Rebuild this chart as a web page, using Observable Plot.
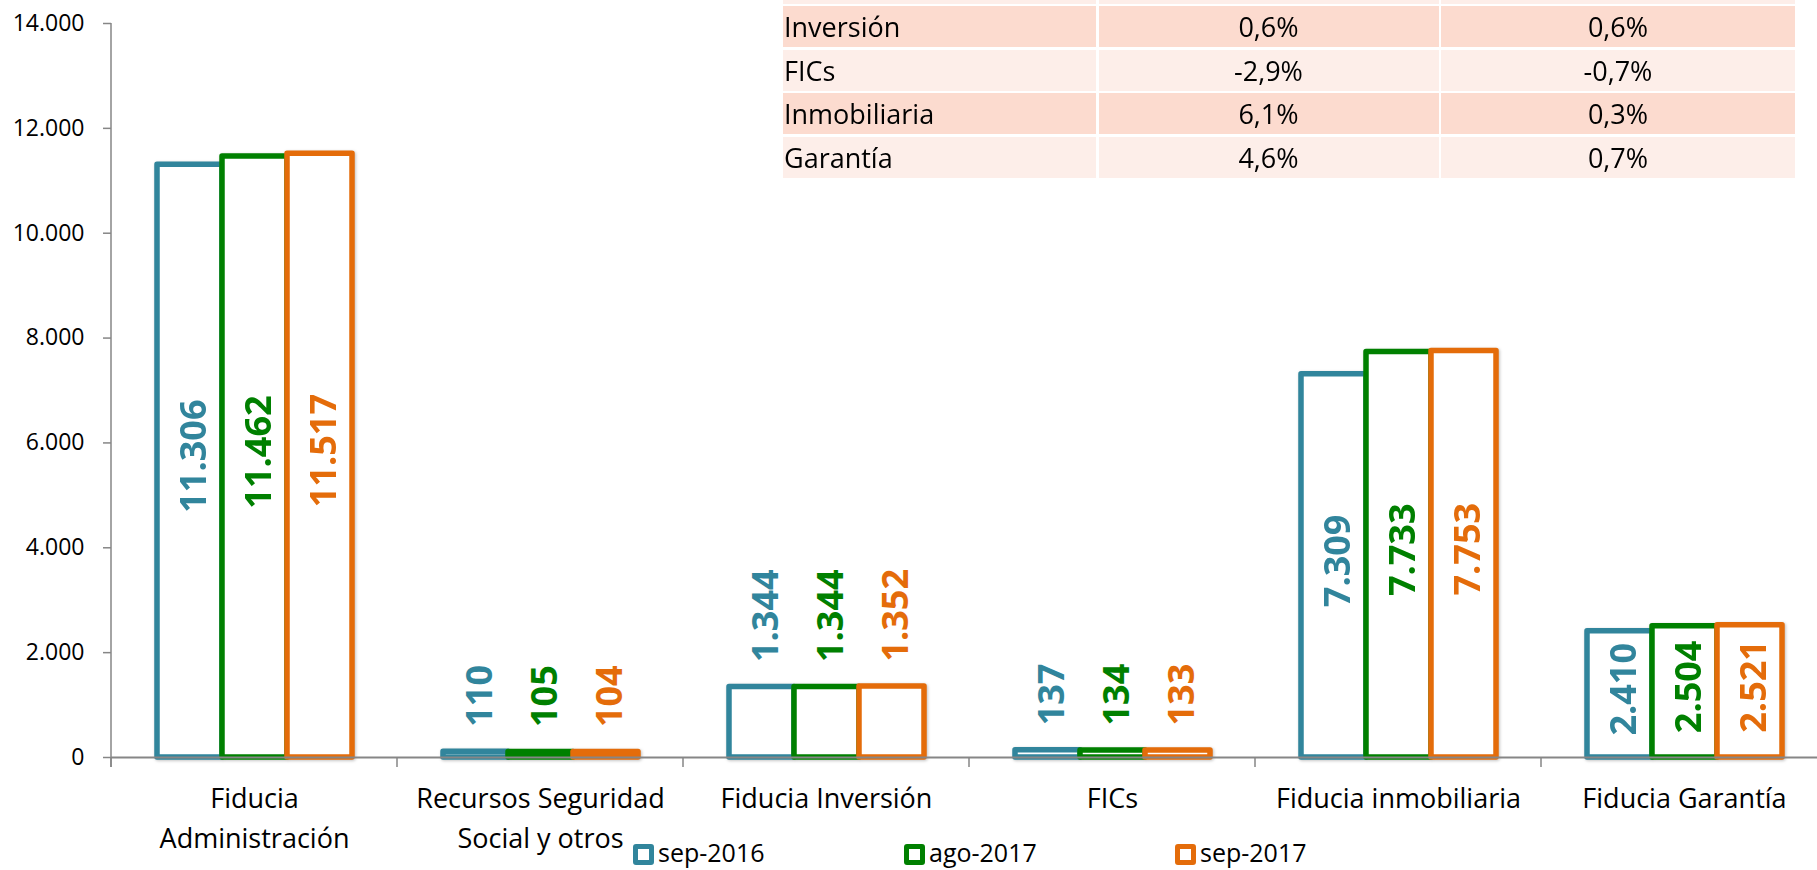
<!DOCTYPE html>
<html>
<head>
<meta charset="utf-8">
<script src="https://cdn.jsdelivr.net/npm/d3@7"></script>
<script src="https://cdn.jsdelivr.net/npm/@observablehq/plot@0.6"></script>
<style>
  html, body { margin: 0; padding: 0; background: #fff; }
  #wrap { position: relative; width: 1817px; height: 870px; overflow: hidden; font-family: "Open Sans", sans-serif; }
  #wrap svg g[aria-label="bar"] { filter: drop-shadow(1.5px 1.5px 1.5px rgba(0,0,0,0.25)); }
  #table { position: absolute; left: 783px; top: -37px; display: grid;
    grid-template-columns: 313px 340px 354px; grid-auto-rows: 41px; column-gap: 2.5px; row-gap: 2.4px;
    font-size: 27px; color: #000; }
  #table div { display: flex; align-items: center; line-height: 41px; white-space: nowrap; }
  #table .c0 { justify-content: flex-start; padding-left: 1px; }
  #table .c1, #table .c2 { justify-content: center; }
  #table .dark { background: #FCDBCF; }
  #table .light { background: #FDEEE9; }
  #legend { position: absolute; left: 633px; top: 840px; display: flex; font-size: 25px; line-height: 25px; color: #000; }
  #legend .item { width: 271px; display: flex; align-items: flex-start; }
  #legend .sw { box-sizing: border-box; width: 21px; height: 21px; border: 5px solid; border-radius: 3px; background: #fff; margin-top: 4px; margin-right: 4px; }
</style>
</head>
<body>
<div id="wrap"></div>
<script>
// ---- data ----
const categories = ["Fiducia Administración", "Recursos Seguridad Social y otros", "Fiducia Inversión", "FICs", "Fiducia inmobiliaria", "Fiducia Garantía"];
const categoryLabels = ["Fiducia\nAdministración", "Recursos Seguridad\nSocial y otros", "Fiducia Inversión", "FICs", "Fiducia inmobiliaria", "Fiducia Garantía"];
const series = ["sep-2016", "ago-2017", "sep-2017"];
const sep2016 = [11306, 110, 1344, 137, 7309, 2410];
const ago2017 = [11462, 105, 1344, 134, 7733, 2504];
const sep2017 = [11517, 104, 1352, 133, 7753, 2521];
const seriesColors = ["#31859C", "#008000", "#E46C0A"];
const yTicks = [0, 2000, 4000, 6000, 8000, 10000, 12000, 14000];
const tableNames = ["", "Inversión", "FICs", "Inmobiliaria", "Garantía"];
const tableCol1 = ["", "0,6%", "-2,9%", "6,1%", "4,6%"];
const tableCol2 = ["", "0,6%", "-0,7%", "0,3%", "0,7%"];

const seriesValues = [sep2016, ago2017, sep2017];
const data = [];
categories.forEach((c, i) => series.forEach((s, j) => data.push({cat: c, series: s, value: seriesValues[j][i]})));

const locale = d3.formatLocale({decimal: ",", thousands: ".", grouping: [3], currency: ["", ""]});
const fmt = locale.format(",d");
const labelMap = new Map(categories.map((c, i) => [c, categoryLabels[i]]));

const chart = Plot.plot({
  width: 1817,
  height: 870,
  marginLeft: 110,
  marginRight: -11,
  marginTop: 23,
  marginBottom: 113,
  style: {fontFamily: "'Open Sans', sans-serif", color: "#000", background: "transparent", overflow: "visible"},
  fx: {domain: categories, padding: 0, label: null, axis: null},
  x: {domain: series, paddingInner: 0, paddingOuter: 0.7, axis: null},
  y: {domain: [0, 14000], axis: null},
  color: {domain: series, range: seriesColors},
  marks: [
    Plot.axisY({ticks: yTicks, tickSize: 8, tickPadding: 19, tickFormat: fmt, stroke: "#868686", strokeWidth: 1.5, fontSize: 23, label: null}),
    Plot.axisFx({anchor: "bottom", tickSize: 0, tickPadding: 22.5, tickFormat: d => labelMap.get(d), fontSize: 27, lineHeight: 1.47, label: null}),
    Plot.barY(data, {fx: "cat", x: "series", y: "value", stroke: "series", fill: "white", strokeWidth: 5.5, strokeLinejoin: "round"}),
    Plot.ruleY([0], {stroke: "#868686", strokeWidth: 2}),
    Plot.text(data.filter(d => d.value >= 2000), {
      fx: "cat", x: "series", y: d => d.value / 2, text: d => fmt(d.value), fill: "series",
      rotate: -90, fontSize: 36, fontWeight: "bold", textAnchor: "middle", lineAnchor: "middle", dx: 4, dy: -5
    }),
    Plot.text(data.filter(d => d.value < 2000), {
      fx: "cat", x: "series", y: "value", text: d => fmt(d.value), fill: "series",
      rotate: -90, fontSize: 36, fontWeight: "bold", textAnchor: "start", lineAnchor: "middle", dx: 4, dy: -25
    })
  ]
});

// axis line and category separators, positioned with the chart's own scales
const fxScale = chart.scale("fx");
const yScale = chart.scale("y");
const y0 = yScale.apply(0);
const yTop = yScale.apply(14000);
const x0 = fxScale.apply(categories[0]);
const svg = d3.select(chart);
const g = svg.append("g").attr("stroke", "#868686").attr("stroke-width", 1.5);
g.append("line").attr("x1", x0).attr("x2", x0).attr("y1", yTop).attr("y2", y0 + 10);
categories.forEach(c => {
  const xb = fxScale.apply(c);
  g.append("line").attr("x1", xb).attr("x2", xb).attr("y1", y0).attr("y2", y0 + 10);
});

const wrap = document.getElementById("wrap");
wrap.appendChild(chart);

// table
const table = document.createElement("div");
table.id = "table";
tableNames.forEach((name, r) => {
  const cls = r % 2 === 1 ? "dark" : "light";
  [name, tableCol1[r], tableCol2[r]].forEach((t, c) => {
    const cell = document.createElement("div");
    cell.className = `c${c} ${cls}`;
    cell.textContent = t;
    table.appendChild(cell);
  });
});
wrap.appendChild(table);

// legend
const legend = document.createElement("div");
legend.id = "legend";
series.forEach((s, i) => {
  const item = document.createElement("div");
  item.className = "item";
  const sw = document.createElement("span");
  sw.className = "sw";
  sw.style.borderColor = seriesColors[i];
  const label = document.createElement("span");
  label.textContent = s;
  item.appendChild(sw);
  item.appendChild(label);
  legend.appendChild(item);
});
wrap.appendChild(legend);
</script>
</body>
</html>
